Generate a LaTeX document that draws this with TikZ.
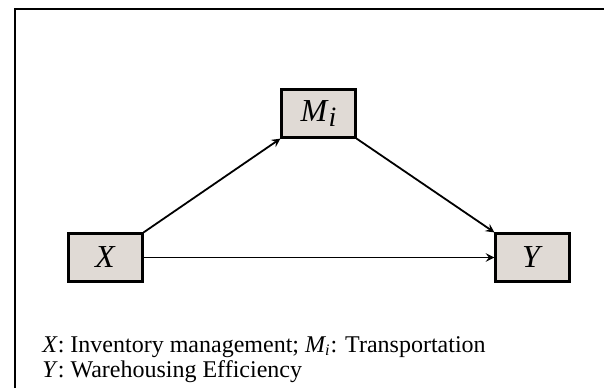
\documentclass[tikz,border=0pt]{standalone}
\usepackage{fontspec}
\setmainfont{Liberation Serif}
\usepackage{tikz}
\usetikzlibrary{calc}
\definecolor{boxfill}{RGB}{224,218,213}
\tikzset{
	varstyle/.style={rectangle,draw=black,line width=1.1pt,fill=boxfill,minimum width=37pt,minimum height=24pt,inner sep=0pt,font=\fontsize{16}{18}\selectfont},
	legendstyle/.style={anchor=base west,inner sep=0pt,font=\fontsize{12}{14}\selectfont},
	linkstyle/.style={-stealth,line width=0.9pt}
}
\begin{document}
\begin{tikzpicture}[x=0.5pt,y=-0.5pt]
	\useasboundingbox (0,0) rectangle (604,388);
	\draw[line width=0.7pt] (15,388)--(15,9)--(604,9);
	\node[varstyle] (m) at (318.5,113.5) {\textit{M}\raisebox{-0.4ex}{\fontsize{14}{16}\selectfont\textit{i}}};
	\node[varstyle] (x) at (105.5,257.5) {\textit{X}};
	\node[varstyle] (y) at (532.5,257.5) {\textit{Y}};
	\draw[linkstyle] (x.north east)--(m.south west);
	\draw[linkstyle] (m.south east)--(y.north west);
	\draw[linkstyle] (x.east)--(y.west);
	\node[legendstyle] (leg1) at (42,352) {\textit{X}: Inventory management; \textit{M\textsubscript{i}}: Transportation};
	\node[legendstyle] (leg2) at (42,377) {\textit{Y}: Warehousing Efficiency};
\end{tikzpicture}
\end{document}
